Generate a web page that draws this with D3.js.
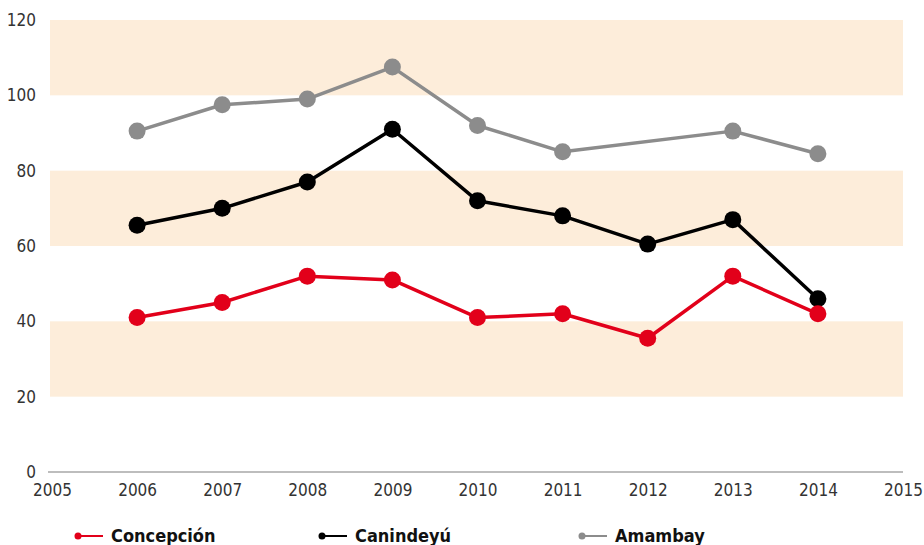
<!DOCTYPE html>
<html>
<head>
<meta charset="utf-8">
<script src="https://cdn.jsdelivr.net/npm/d3@7"></script>
<style>
  body { margin: 0; background: #fff; }
  text { font-family: "Liberation Sans Narrow", "DejaVu Sans Condensed", sans-serif; }
</style>
</head>
<body>
<script>
// ---------------- DATA ----------------
var years = [2006, 2007, 2008, 2009, 2010, 2011, 2012, 2013, 2014]
var concepcion = [41, 45, 52, 51, 41, 42, 35.5, 52, 42]
var canindeyu = [65.5, 70, 77, 91, 72, 68, 60.5, 67, 46]
var amambay = [90.5, 97.5, 99, 107.5, 92, 85, null, 90.5, 84.5]
var xTicks = [2005, 2006, 2007, 2008, 2009, 2010, 2011, 2012, 2013, 2014, 2015]
var yTicks = [0, 20, 40, 60, 80, 100, 120]
var bands = [[20, 40], [60, 80], [100, 120]]

var series = [
  {name: 'Concepción', values: concepcion, color: '#e2001a'},
  {name: 'Canindeyú', values: canindeyu, color: '#000000'},
  {name: 'Amambay', values: amambay, color: '#8c8c8c'}
]

// ---------------- SVG ----------------
var width = 924, height = 545

var svg = d3.select('body').append('svg')
  .attr('width', width)
  .attr('height', height)

var x = d3.scaleLinear().domain([2005, 2015]).range([52, 903])
var y = d3.scaleLinear().domain([0, 120]).range([472, 20])

// background bands
svg.append('g').selectAll('rect')
  .data(bands)
  .enter()
  .append('rect')
  .attr('x', 50)
  .attr('width', x(2015) - 50)
  .attr('y', d => y(d[1]))
  .attr('height', d => y(d[0]) - y(d[1]))
  .attr('fill', '#fdedda')

// y axis labels
var yAxis = svg.append('g')
  .attr('transform', 'translate(36,0)')
  .call(d3.axisLeft(y).tickValues(yTicks).tickSize(0).tickPadding(0))
yAxis.select('.domain').remove()
yAxis.selectAll('text')
  .attr('font-size', 17)
  .attr('fill', '#333')
  .style('font-family', '"Liberation Sans Narrow", "DejaVu Sans Condensed", sans-serif')

// x axis
var xAxis = svg.append('g')
  .attr('transform', 'translate(0,' + y(0) + ')')
  .call(d3.axisBottom(x).tickValues(xTicks).tickFormat(d3.format('d')).tickSize(0).tickPadding(12))
xAxis.select('.domain')
  .attr('stroke', '#bdbdbd')
  .attr('stroke-width', 2)
  .attr('d', 'M' + 48 + ',0H' + x(2015))
xAxis.selectAll('text')
  .attr('font-size', 17)
  .attr('fill', '#333')
  .style('font-family', '"Liberation Sans Narrow", "DejaVu Sans Condensed", sans-serif')

// ---------------- LINES ----------------
var line = d3.line()
  .x(d => x(d.year))
  .y(d => y(d.value))

series.slice().reverse().forEach(function(s) {
  var pts = years.map((yr, i) => ({year: yr, value: s.values[i]}))
    .filter(d => d.value !== null)

  svg.append('path')
    .datum(pts)
    .attr('d', line)
    .attr('fill', 'none')
    .attr('stroke', s.color)
    .attr('stroke-width', 3.5)
    .attr('stroke-linejoin', 'round')

  svg.append('g').selectAll('circle')
    .data(pts)
    .enter()
    .append('circle')
    .attr('cx', d => x(d.year))
    .attr('cy', d => y(d.value))
    .attr('r', 8.5)
    .attr('fill', s.color)
})

// ---------------- LEGEND ----------------
var legendX = [78, 322, 582]
var legend = svg.append('g').selectAll('g')
  .data(series)
  .enter()
  .append('g')
  .attr('transform', (d, i) => 'translate(' + legendX[i] + ',536)')

legend.append('line')
  .attr('x1', 0).attr('x2', 25)
  .attr('stroke', d => d.color)
  .attr('stroke-width', 2)
legend.append('circle')
  .attr('r', 3.5)
  .attr('fill', d => d.color)
legend.append('text')
  .attr('x', 33)
  .attr('y', 6)
  .attr('font-size', 18)
  .attr('font-weight', 'bold')
  .attr('fill', '#111')
  .text(d => d.name)
</script>
</body>
</html>
